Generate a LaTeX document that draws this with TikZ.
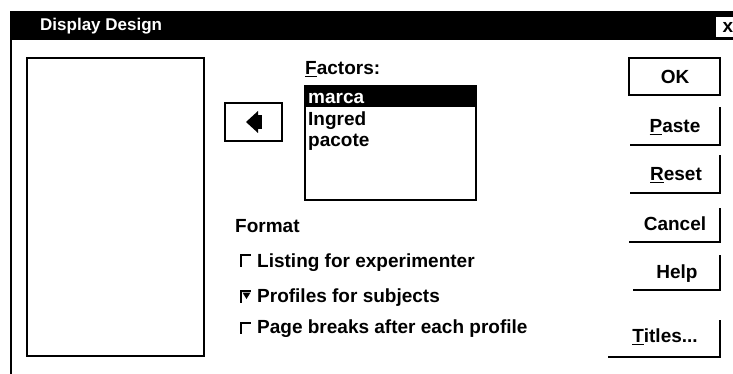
\documentclass[tikz,border=0pt]{standalone}
\usepackage{fontspec}
\setmainfont{Liberation Sans}
\begin{document}
\begin{tikzpicture}[x=1pt,y=-1pt,
  ui/.style={font=\fontsize{19}{22}\selectfont\bfseries, inner sep=0pt},
  lbl/.style={ui, anchor=base west},
  btn/.style={ui, anchor=center},
  frame/.style={line width=1.6pt},
  heavy/.style={line width=2.2pt},
  chk/.style={line width=2.4pt}]
\useasboundingbox[fill=white] (0,0) rectangle (733,374);
% title bar
\fill (10,11) rectangle (733,40);
\node[ui, font=\fontsize{17}{20}\selectfont\bfseries, text=white, anchor=west] (title) at (40,26) {Display Design};
\fill[white] (716,17) rectangle (734,37);
\node[ui, anchor=center] (close) at (728,27) {x};
% dialog left border
\draw[heavy] (11,40) -- (11,374);
% source list
\draw[frame] (27,58) rectangle (204,356);
% move button
\draw[heavy] (225,103) rectangle (282,141);
\fill (246,122) -- (258,111) -- (258,133) -- cycle;
\fill (258,115) rectangle (261.5,129);
% factors
\node[lbl] (factors) at (305,75) {\underline{F}actors:};
\draw[frame] (305,86) rectangle (476,200);
\fill (305,86) rectangle (476,107);
\node[lbl, text=white] (marca) at (308,104) {marca};
\node[lbl] (ingred) at (308,126) {Ingred};
\node[lbl] (pacote) at (308,147) {pacote};
% format group
\node[lbl] (format) at (235,233) {Format};
\draw[chk] (241,266.5) |- (250.5,255);
\node[lbl] (listing) at (257,267) {Listing for experimenter};
\draw[chk] (241,302.5) |- (250.5,291);
\fill (242.5,292.5) -- (250.5,292.5) -- (246.5,299) -- cycle;
\node[lbl] (profiles) at (257,302) {Profiles for subjects};
\draw[chk] (241,333.5) |- (250.5,323);
\node[lbl] (pagebreaks) at (257,333) {Page breaks after each profile};
% buttons
\draw[heavy] (629,58) rectangle (720,95);
\node[btn] (ok) at (675,77) {OK};
\draw[frame] (630,145) -| (720,107);
\node[btn] (paste) at (675,127) {\underline{P}aste};
\draw[frame] (630,193) -| (720,155);
\node[btn] (reset) at (676,175) {\underline{R}eset};
\draw[frame] (629,242) -| (720,208);
\node[btn] (cancel) at (675,224) {Cancel};
\draw[frame] (633,290) -| (720,255);
\node[btn] (help) at (677,274) {Help};
\draw[frame] (608,357) -| (720,320);
\node[btn] (titles) at (665,337) {\underline{T}itles...};
\end{tikzpicture}
\end{document}
